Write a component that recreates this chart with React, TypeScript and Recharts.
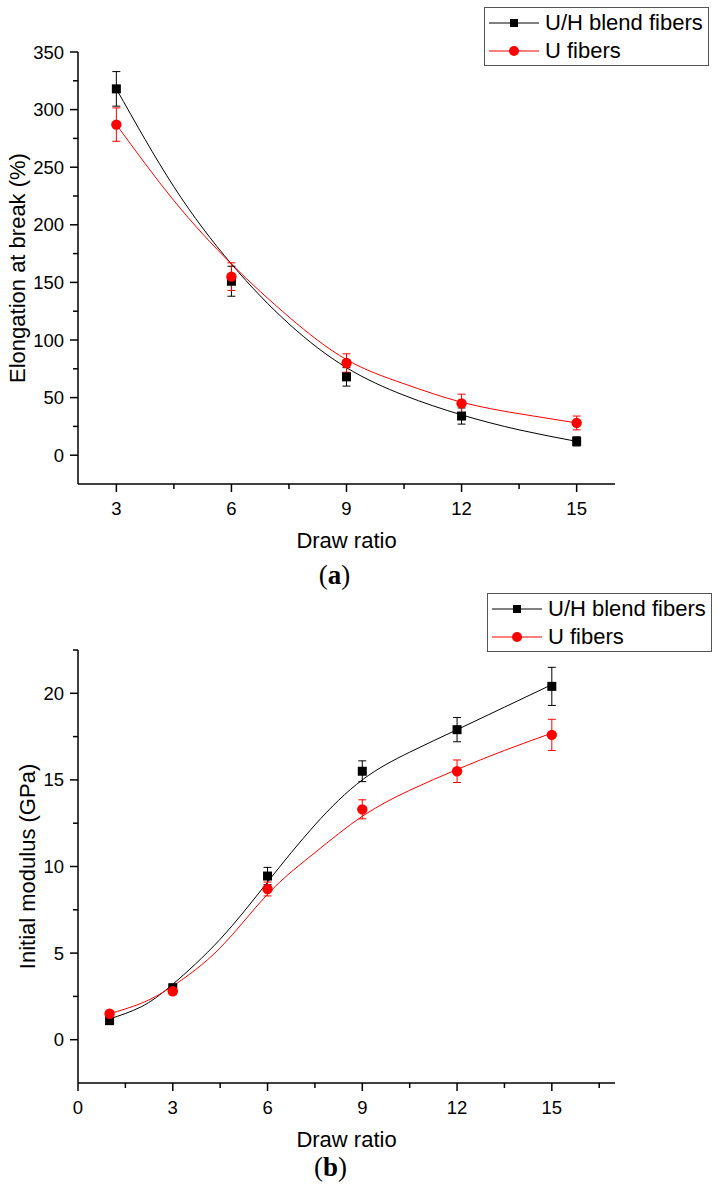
import React from "react";
import { ComposedChart, Line, Scatter, ErrorBar, XAxis, YAxis, Label } from "recharts";

// (a) elongation at break
const drawA = [3, 6, 9, 12, 15];
const blendA = [318, 151, 68, 34, 12];
const blendAErr = [15, 13, 8, 7, 4];
const uA = [287, 155, 80, 45, 28];
const uAErr = [14.5, 12, 8, 8, 6];
const fitXA = [3, 4.5, 6, 7.5, 9, 10.5, 12, 13.5, 15];
const blendAFit = [318, 233, 166, 114, 76, 52, 35, 22, 12];
const uAFit = [287, 221, 166, 120, 83, 62, 46, 36, 28];
const xTicksA = [3, 4.5, 6, 7.5, 9, 10.5, 12, 13.5, 15];
const xMajorA = [3, 6, 9, 12, 15];
const yTicksA = [0, 25, 50, 75, 100, 125, 150, 175, 200, 225, 250, 275, 300, 325, 350];
const yMajorA = [0, 50, 100, 150, 200, 250, 300, 350];

// (b) initial modulus
const drawB = [1, 3, 6, 9, 12, 15];
const blendB = [1.1, 3.0, 9.45, 15.5, 17.9, 20.4];
const blendBErr = [0.2, 0.2, 0.5, 0.6, 0.7, 1.1];
const uB = [1.5, 2.8, 8.7, 13.3, 15.5, 17.6];
const uBErr = [0.15, 0.2, 0.4, 0.55, 0.65, 0.9];
const fitXB = [1, 2, 3, 4.5, 6, 7.5, 9, 10.5, 12, 13.5, 15];
const blendBFit = [1.2, 1.9, 3.2, 5.8, 9.1, 12.4, 15.0, 16.6, 17.9, 19.2, 20.5];
const uBFit = [1.5, 2.1, 3.1, 5.3, 8.4, 10.8, 12.9, 14.4, 15.6, 16.7, 17.7];
const xTicksB = [0, 1.5, 3, 4.5, 6, 7.5, 9, 10.5, 12, 13.5, 15, 16.5];
const xMajorB = [0, 3, 6, 9, 12, 15];
const yTicksB = [0, 2.5, 5, 7.5, 10, 12.5, 15, 17.5, 20, 22.5];
const yMajorB = [0, 5, 10, 15, 20];

const seriesNames = ["U/H blend fibers", "U fibers"];
const FONT = '"Liberation Sans", Arial, sans-serif';
const RED = "#ff0000";

const toPoints = (xs: number[], ys: number[], errs?: number[]) =>
  xs.map((x, i) => ({ x, y: ys[i], err: errs ? errs[i] : 0 }));

const makeXTick = (major: number[]) => (props: any) => {
  const { x, y, payload } = props;
  const isMajor = major.includes(payload.value);
  return (
    <g>
      <line x1={x} x2={x} y1={y} y2={y + (isMajor ? 8 : 5)} stroke="#000" strokeWidth={1.5} />
      {isMajor && (
        <text x={x} y={y + 31} textAnchor="middle" fontSize={18.5} fontFamily={FONT} fill="#000">
          {payload.value}
        </text>
      )}
    </g>
  );
};

const makeYTick = (major: number[]) => (props: any) => {
  const { x, y, payload } = props;
  const isMajor = major.includes(payload.value);
  return (
    <g>
      <line x1={x} x2={x - (isMajor ? 8 : 5)} y1={y} y2={y} stroke="#000" strokeWidth={1.5} />
      {isMajor && (
        <text x={x - 14} y={y + 6.5} textAnchor="end" fontSize={18.5} fontFamily={FONT} fill="#000">
          {payload.value}
        </text>
      )}
    </g>
  );
};

const Square = (props: any) => {
  const { cx, cy } = props;
  return <rect x={cx - 4.5} y={cy - 4.5} width={9} height={9} fill="#000" />;
};

const Dot = (props: any) => {
  const { cx, cy } = props;
  return <circle cx={cx} cy={cy} r={5.2} fill={RED} />;
};

const LegendBox = ({ left, top }: { left: number; top: number }) => (
  <div
    style={{
      position: "absolute",
      left,
      top,
      width: 223,
      height: 57,
      border: "1px solid #555",
      fontFamily: FONT,
      fontSize: 22,
      color: "#000",
    }}
  >
    {seriesNames.map((name, i) => (
      <div key={name} style={{ position: "absolute", left: 0, top: i === 0 ? 3 : 31, height: 24, width: 223 }}>
        <svg width={54} height={24} style={{ position: "absolute", left: 3, top: 0 }}>
          <line x1={1} x2={51} y1={12} y2={12} stroke={i === 0 ? "#000" : RED} strokeWidth={1} />
          {i === 0 ? (
            <rect x={22} y={8} width={8} height={8} fill="#000" />
          ) : (
            <circle cx={26} cy={12} r={5} fill={RED} />
          )}
        </svg>
        <span style={{ position: "absolute", left: 60, top: 0, lineHeight: "24px", whiteSpace: "nowrap" }}>
          {name}
        </span>
      </div>
    ))}
  </div>
);

const xTitle = (caption: string, captionDx: number, captionDy: number) => (props: any) => {
  const { viewBox } = props;
  const cx = viewBox.x + viewBox.width / 2;
  return (
    <g>
      <text x={cx} y={viewBox.y + 64} textAnchor="middle" fontSize={22} fontFamily={FONT} fill="#000">
        Draw ratio
      </text>
      <text
        x={cx + captionDx}
        y={viewBox.y + captionDy}
        textAnchor="middle"
        fontSize={27}
        fontFamily='"Liberation Serif", "Times New Roman", serif'
        fill="#000"
      >
        (<tspan fontWeight="bold">{caption}</tspan>)
      </text>
    </g>
  );
};

const yTitle = (text: string, baseX: number) => (props: any) => {
  const { viewBox } = props;
  const cy = viewBox.y + viewBox.height / 2;
  return (
    <text
      x={baseX}
      y={cy}
      transform={`rotate(-90, ${baseX}, ${cy})`}
      textAnchor="middle"
      fontSize={22}
      fontFamily={FONT}
      fill="#000"
    >
      {text}
    </text>
  );
};

const axisLine = { stroke: "#000", strokeWidth: 1.5 };

export default function App() {
  return (
    <div style={{ position: "absolute", left: 0, top: 0, width: 718, height: 1192, background: "#fff" }}>
      <div style={{ position: "absolute", left: 0, top: 0 }}>
        <ComposedChart width={718} height={600} margin={{ top: 52, right: 103, bottom: 0, left: 0 }}>
          <XAxis
            type="number"
            dataKey="x"
            domain={[2, 16]}
            ticks={xTicksA}
            interval={0}
            allowDataOverflow
            height={116}
            axisLine={axisLine}
            tickLine={false}
            tickSize={0}
            tickMargin={0}
            tick={makeXTick(xMajorA)}
          >
            <Label content={xTitle("a", -12, 100)} />
          </XAxis>
          <YAxis
            type="number"
            dataKey="y"
            domain={[-25, 350]}
            ticks={yTicksA}
            interval={0}
            allowDataOverflow
            width={78}
            axisLine={axisLine}
            tickLine={false}
            tickSize={0}
            tickMargin={0}
            tick={makeYTick(yMajorA)}
          >
            <Label content={yTitle("Elongation at break (%)", 25)} />
          </YAxis>
          <Line data={toPoints(fitXA, blendAFit)} dataKey="y" type="natural" stroke="#000" strokeWidth={1} dot={false} isAnimationActive={false} />
          <Line data={toPoints(fitXA, uAFit)} dataKey="y" type="natural" stroke={RED} strokeWidth={1} dot={false} isAnimationActive={false} />
          <Scatter data={toPoints(drawA, blendA, blendAErr)} shape={Square} isAnimationActive={false}>
            <ErrorBar dataKey="err" direction="y" width={4} stroke="#000" strokeWidth={1} isAnimationActive={false} />
          </Scatter>
          <Scatter data={toPoints(drawA, uA, uAErr)} shape={Dot} isAnimationActive={false}>
            <ErrorBar dataKey="err" direction="y" width={4} stroke={RED} strokeWidth={1} isAnimationActive={false} />
          </Scatter>
        </ComposedChart>
        <LegendBox left={484} top={7} />
      </div>

      <div style={{ position: "absolute", left: 0, top: 590 }}>
        <ComposedChart width={718} height={602} margin={{ top: 60, right: 103, bottom: 0, left: 0 }}>
          <XAxis
            type="number"
            dataKey="x"
            domain={[0, 17]}
            ticks={xTicksB}
            interval={0}
            allowDataOverflow
            height={109}
            axisLine={axisLine}
            tickLine={false}
            tickSize={0}
            tickMargin={0}
            tick={makeXTick(xMajorB)}
          >
            <Label content={xTitle("b", -16, 93)} />
          </XAxis>
          <YAxis
            type="number"
            dataKey="y"
            domain={[-2.5, 22.5]}
            ticks={yTicksB}
            interval={0}
            allowDataOverflow
            width={78}
            axisLine={axisLine}
            tickLine={false}
            tickSize={0}
            tickMargin={0}
            tick={makeYTick(yMajorB)}
          >
            <Label content={yTitle("Initial modulus (GPa)", 35)} />
          </YAxis>
          <Line data={toPoints(fitXB, blendBFit)} dataKey="y" type="natural" stroke="#000" strokeWidth={1} dot={false} isAnimationActive={false} />
          <Line data={toPoints(fitXB, uBFit)} dataKey="y" type="natural" stroke={RED} strokeWidth={1} dot={false} isAnimationActive={false} />
          <Scatter data={toPoints(drawB, blendB, blendBErr)} shape={Square} isAnimationActive={false}>
            <ErrorBar dataKey="err" direction="y" width={4} stroke="#000" strokeWidth={1} isAnimationActive={false} />
          </Scatter>
          <Scatter data={toPoints(drawB, uB, uBErr)} shape={Dot} isAnimationActive={false}>
            <ErrorBar dataKey="err" direction="y" width={4} stroke={RED} strokeWidth={1} isAnimationActive={false} />
          </Scatter>
        </ComposedChart>
        <LegendBox left={487} top={3} />
      </div>
    </div>
  );
}
